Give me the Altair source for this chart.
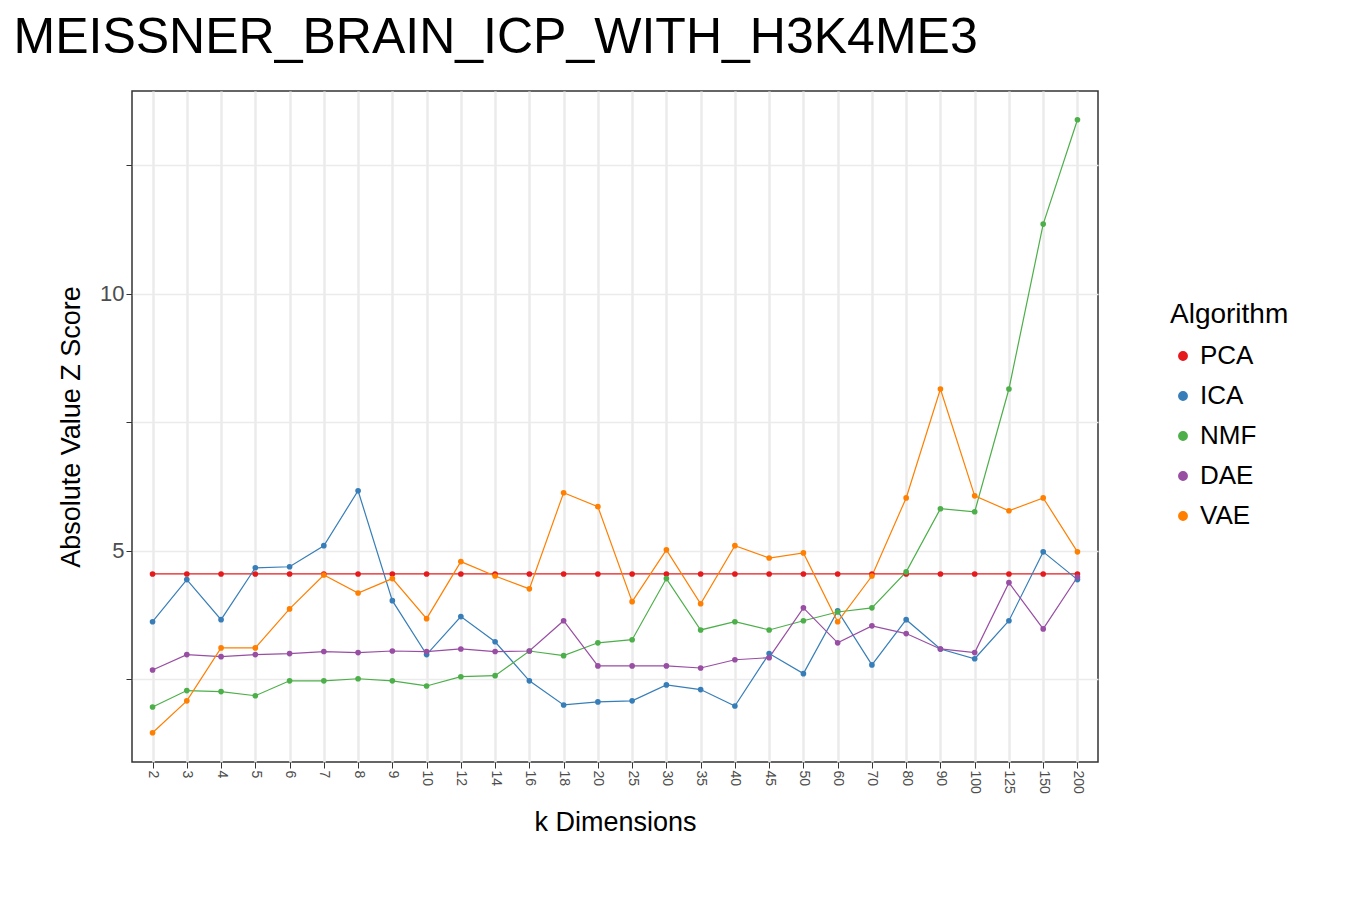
import altair as alt
import pandas as pd

k_dims = ["2", "3", "4", "5", "6", "7", "8", "9", "10", "12", "14", "16", "18", "20",
          "25", "30", "35", "40", "45", "50", "60", "70", "80", "90", "100", "125", "150", "200"]

pca = [4.55] * 28
ica = [3.62, 4.44, 3.66, 4.67, 4.69, 5.10, 6.17, 4.03, 2.98, 3.72, 3.23, 2.47, 2.00, 2.06,
       2.08, 2.39, 2.30, 1.98, 3.00, 2.61, 3.83, 2.78, 3.66, 3.09, 2.90, 3.64, 4.98, 4.44]
nmf = [1.96, 2.28, 2.26, 2.18, 2.47, 2.47, 2.51, 2.47, 2.37, 2.55, 2.57, 3.05, 2.96, 3.21,
       3.27, 4.46, 3.46, 3.62, 3.46, 3.64, 3.81, 3.89, 4.59, 5.82, 5.76, 8.15, 11.36, 13.39]
dae = [2.68, 2.98, 2.94, 2.98, 3.00, 3.04, 3.02, 3.05, 3.04, 3.09, 3.04, 3.05, 3.64, 2.76,
       2.76, 2.76, 2.72, 2.88, 2.92, 3.89, 3.21, 3.54, 3.39, 3.09, 3.02, 4.38, 3.48, 4.49]
vae = [1.46, 2.08, 3.11, 3.11, 3.87, 4.53, 4.18, 4.46, 3.68, 4.79, 4.51, 4.26, 6.13, 5.86,
       4.01, 5.02, 3.97, 5.10, 4.86, 4.96, 3.62, 4.51, 6.03, 8.15, 6.07, 5.78, 6.03, 4.98]

algorithms = ["PCA", "ICA", "NMF", "DAE", "VAE"]
colors = ["#E41A1C", "#377EB8", "#4DAF4A", "#984EA3", "#FF7F00"]

rows = []
for name, vals in zip(algorithms, [pca, ica, nmf, dae, vae]):
    for i, (k, v) in enumerate(zip(k_dims, vals)):
        rows.append({"k": k, "idx": i, "z": v, "Algorithm": name})
df = pd.DataFrame(rows)

base = alt.Chart(df).encode(
    x=alt.X("k:O", sort=k_dims, title="k Dimensions",
            scale=alt.Scale(type="point", padding=0.6),
            axis=alt.Axis(labelAngle=90, labelFontSize=14, labelColor="#4d4d4d",
                          titleFontSize=27, titleFontWeight="normal", titlePadding=16,
                          titleColor="#000",
                          grid=True, gridColor="#ebebeb", gridWidth=2.5,
                          tickColor="#333", tickSize=6, domain=False)),
    y=alt.Y("z:Q", title="Absolute Value Z Score",
            scale=alt.Scale(domain=[0.89, 13.95], nice=False, zero=False),
            axis=alt.Axis(values=[2.5, 5, 7.5, 10, 12.5],
                          labelExpr="datum.value % 5 == 0 ? datum.label : ''",
                          labelFontSize=22, labelColor="#4d4d4d",
                          titleFontSize=27, titleFontWeight="normal", titlePadding=14,
                          titleColor="#000",
                          gridColor="#ebebeb", gridWidth=1.5,
                          tickColor="#333", tickSize=6, domain=False)),
    color=alt.Color("Algorithm:N", sort=algorithms,
                    scale=alt.Scale(domain=algorithms, range=colors),
                    legend=alt.Legend(titleFontSize=28, titleFontWeight="normal",
                                      labelFontSize=26, symbolType="circle",
                                      symbolSize=70, rowPadding=14, titlePadding=14,
                                      orient="none", legendX=1038, legendY=210)),
    order=alt.Order("idx:Q"),
)

lines = base.mark_line(strokeWidth=1.2)
points = base.mark_circle(size=32, opacity=1)

chart = (lines + points).properties(
    width=966, height=671,
    title=alt.TitleParams("MEISSNER_BRAIN_ICP_WITH_H3K4ME3", fontSize=50,
                          fontWeight="normal", anchor="start", offset=28, dx=-44),
).configure(font="Liberation Sans").configure_view(stroke="#333", strokeWidth=1.5)

chart.save("out.html", embed_options={"renderer": "svg", "actions": False})
